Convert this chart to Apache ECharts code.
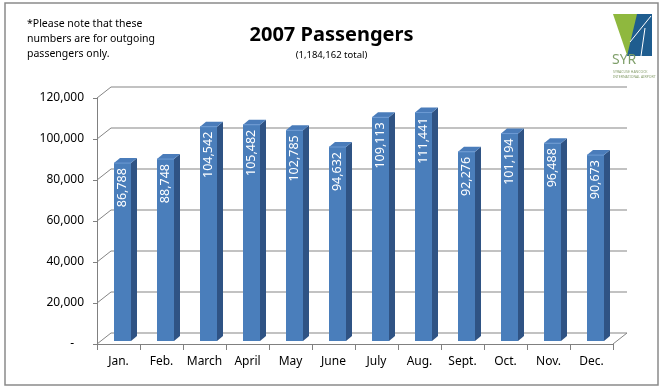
<!DOCTYPE html>
<html>
<head>
<meta charset="utf-8">
<script src="https://cdn.jsdelivr.net/npm/echarts@6/dist/echarts.min.js"></script>
<style>
html,body{margin:0;padding:0;background:#fff;}
#c{width:663px;height:389px;}
</style>
</head>
<body>
<div id="c"></div>
<script>
// ---- data ----
var categories = ['Jan.', 'Feb.', 'March', 'April', 'May', 'June', 'July', 'Aug.', 'Sept.', 'Oct.', 'Nov.', 'Dec.'];
var passengers = [86788, 88748, 104542, 105482, 102785, 94632, 109113, 111441, 92276, 101194, 96488, 90673];
var yTicks = [0, 20000, 40000, 60000, 80000, 100000, 120000];
var titleText = '2007 Passengers';
var subtitleText = '(1,184,162 total)';
var noteLines = ['*Please note that these', 'numbers are for outgoing', 'passengers only.'];

function fmt(v) { return v.toString().replace(/\B(?=(\d{3})+(?!\d))/g, ','); }

var FONT = 'Noto Sans';
var DX = 14, DY = 11;     // wall depth
var BDX = 6, BDY = 5;     // bar depth

var chart = echarts.init(document.getElementById('c'), null, {renderer: 'canvas'});

var option = {
  backgroundColor: '#fff',
  animation: false,
  title: {
    text: titleText,
    subtext: subtitleText,
    left: 'center',
    top: 20,
    itemGap: 5,
    textStyle: {fontFamily: FONT, fontSize: 20, fontWeight: 'bold', color: '#000'},
    subtextStyle: {fontFamily: FONT, fontSize: 9.5, color: '#000'}
  },
  grid: {left: 97, right: 50, top: 98, bottom: 45},
  xAxis: {
    type: 'category',
    data: categories,
    boundaryGap: true,
    axisLine: {show: true, lineStyle: {color: '#808080', width: 1}},
    axisTick: {show: true, length: 6, lineStyle: {color: '#808080'}},
    axisLabel: {fontFamily: FONT, fontSize: 12, color: '#000', margin: 12, interval: 0},
    splitLine: {show: false}
  },
  yAxis: {
    type: 'value',
    min: 0,
    max: 120000,
    interval: 20000,
    axisLine: {show: true, lineStyle: {color: '#808080', width: 1}},
    axisTick: {show: true, length: 4, lineStyle: {color: '#808080'}},
    axisLabel: {
      fontFamily: FONT, fontSize: 12, color: '#000', margin: 13,
      formatter: function (v) { return v === 0 ? '{d|-}' : fmt(v); },
      rich: {d: {fontFamily: FONT, fontSize: 12, color: '#000', padding: [0, 10, 0, 0]}}
    },
    splitLine: {show: false}
  },
  series: [
    {
      type: 'custom',
      name: 'walls',
      silent: true,
      z: 1,
      data: yTicks.map(function (v) { return [0, v]; }),
      renderItem: function (params, api) {
        var cs = params.coordSys;
        var v = api.value(1);
        var y = api.coord([0, v])[1];
        var x0 = cs.x, x1 = cs.x + cs.width;
        var children = [];
        var ls = {stroke: '#858585', lineWidth: 1, fill: null};
        children.push({type: 'polyline', shape: {points: [[x0, y], [x0 + DX, y - DY], [x1 + DX, y - DY]]}, style: ls});
        if (v === 0) {
          children.push({type: 'polyline', shape: {points: [[x1, y], [x1 + DX, y - DY]]}, style: ls});
        }
        return {type: 'group', children: children};
      }
    },
    {
      type: 'custom',
      name: 'Passengers',
      z: 2,
      data: passengers.map(function (v, i) { return [i, v]; }),
      renderItem: function (params, api) {
        var i = api.value(0), v = api.value(1);
        var pt = api.coord([i, v]);
        var base = api.coord([i, 0]);
        var w = 17;
        var cx = pt[0] + 4;
        var x0 = cx - w / 2, x1 = cx + w / 2;
        var top = pt[1] - 3, bottom = base[1] - 3;
        return {
          type: 'group',
          children: [
            {type: 'polygon', shape: {points: [[x1, top], [x1 + BDX, top - BDY], [x1 + BDX, bottom - BDY], [x1, bottom]]},
              style: {fill: '#2f5384'}},
            {type: 'polygon', shape: {points: [[x0, top], [x0 + BDX, top - BDY], [x1 + BDX, top - BDY], [x1, top]]},
              style: {fill: '#4a7cba'}},
            {type: 'rect', shape: {x: x0, y: top, width: w, height: bottom - top},
              style: {fill: '#4a7ebb'}},
            {type: 'polyline', shape: {points: [[x0, top], [x1, top]]}, style: {stroke: '#6c9ad3', lineWidth: 1}},
            {type: 'text', x: cx, y: top + 5, rotation: Math.PI / 2,
              style: {text: fmt(v), fill: '#fff', fontFamily: FONT, fontSize: 12.5, align: 'right', verticalAlign: 'middle'}}
          ]
        };
      }
    }
  ],
  graphic: [
    {type: 'rect', shape: {x: 5, y: 3, width: 653, height: 382}, style: {fill: null, stroke: '#8a8a8a', lineWidth: 1.5}, silent: true},
    {type: 'text', left: 27, top: 17, style: {text: noteLines.join('\n'), fontFamily: FONT, fontSize: 10.5, lineHeight: 15, fill: '#000'}},
    // logo
    {type: 'polygon', shape: {points: [[613, 14], [639, 14], [630, 55], [627, 55]]}, style: {fill: '#8fb83e'}},
    {type: 'polygon', shape: {points: [[637, 14], [652, 14], [652, 56], [627, 56]]}, style: {fill: '#1f5d8f'}},
    {type: 'polyline', shape: {points: [[651, 16], [630, 42]]}, style: {stroke: '#fff', lineWidth: 1}},
    {type: 'polyline', shape: {points: [[645, 28], [641, 56]]}, style: {stroke: '#fff', lineWidth: 1}},
    {type: 'text', left: 612, top: 53, style: {text: 'SYR', fontFamily: FONT, fontSize: 14, fill: '#7f9f6a'}},
    {type: 'text', left: 613, top: 70, style: {text: 'SYRACUSE HANCOCK', fontFamily: FONT, fontSize: 3.5, fill: '#8aa070'}},
    {type: 'text', left: 613, top: 75, style: {text: 'INTERNATIONAL AIRPORT', fontFamily: FONT, fontSize: 3.5, fill: '#8aa070'}}
  ]
};
chart.setOption(option);
</script>
</body>
</html>
